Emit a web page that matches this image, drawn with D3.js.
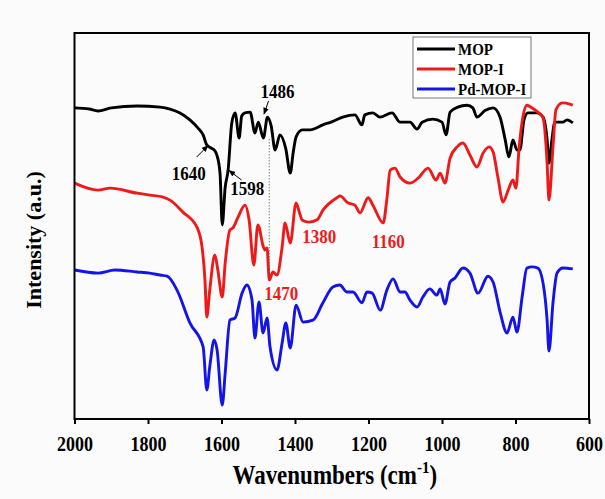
<!DOCTYPE html>
<html>
<head>
<meta charset="utf-8">
<script src="https://cdn.jsdelivr.net/npm/d3@7"></script>
<style>
  html, body { margin: 0; padding: 0; background: #fbfbfb; }
  svg { display: block; font-family: "Liberation Serif", "Times New Roman", serif; font-weight: bold; }
</style>
</head>
<body>
<svg id="chart" width="605" height="499"></svg>
<script>
// ---- FT-IR spectra (wavenumber in cm^-1, intensity in a.u., curves are vertically offset) ----
const seriesNames = ["MOP", "MOP-I", "Pd-MOP-I"];

const mopWn = [2000,1960,1936,1900,1830,1767,1740,1713,1686,1665,1650,1640,1628,1618,1613,1604,1598,1590,1582,1572,1563,1552,1545,1536,1522,1509,1500,1486,1475,1465,1454,1441,1425,1413,1405,1397,1380,1359,1324,1300,1270,1237,1218,1210,1188,1169,1136,1114,1087,1068,1054,1025,1000,989,978,957,932,916,905,883,861,842,828,818,807,796,788,777,766,742,725,714,709,701,693,671,660,644];
const mopI  = [80.6,80.3,79.8,80.6,81.1,80.8,80.3,79.3,77.5,75.5,73.6,71.0,70.2,69.5,68.5,63.7,50.3,60.0,64.5,76.7,79.3,72.8,78.5,79.3,79.5,74.1,76.9,72.8,78.2,76.0,69.7,73.6,70.0,63.7,69.0,73.1,74.9,74.9,76.2,77.0,78.2,78.8,76.2,78.8,79.3,78.2,79.3,76.9,76.9,75.1,76.9,77.7,76.9,73.6,79.5,80.8,81.3,80.6,78.2,79.9,80.6,78.2,72.3,67.9,72.3,69.7,69.7,77.5,79.3,79.3,78.2,72.3,66.3,72.3,76.9,76.9,77.5,76.7];

const mopIWn = [2000,1936,1903,1830,1795,1759,1740,1705,1667,1653,1645,1640,1632,1618,1610,1598,1590,1577,1569,1555,1536,1525,1512,1501,1486,1482,1476,1470,1460,1449,1435,1427,1413,1397,1388,1380,1362,1340,1324,1283,1278,1256,1237,1223,1201,1188,1160,1150,1141,1128,1114,1087,1065,1038,1016,1005,992,978,959,943,924,905,888,872,861,848,834,820,807,799,790,780,769,755,739,725,714,709,698,690,673,652,644];
const mopII  = [61.1,59.3,59.8,58.5,58.0,57.5,56.7,53.6,49.7,44.6,36.0,26.4,33.4,42.5,38.6,31.6,40.4,49.0,49.5,52.3,55.4,51.6,39.9,50.3,44.6,43.8,44.3,36.0,38.1,37.3,44.6,50.8,45.6,56.0,53.5,51.5,51.0,51.6,54.1,57.5,57.8,56.0,55.4,53.4,57.3,55.4,50.8,57.0,64.5,65.0,62.7,61.1,62.4,65.0,61.9,63.7,61.1,67.6,70.5,71.5,68.4,65.3,68.9,70.5,69.2,62.7,56.2,59.3,61.9,59.8,70.5,78.2,81.3,80.6,79.5,78.0,66.3,56.7,70.5,80.1,81.9,81.6,81.3];

const pdWn = [2000,1936,1890,1830,1795,1767,1748,1721,1686,1650,1640,1632,1620,1612,1598,1590,1577,1563,1544,1531,1517,1509,1498,1487,1476,1468,1449,1435,1425,1413,1397,1378,1351,1324,1297,1278,1259,1242,1218,1204,1190,1168,1150,1133,1114,1101,1087,1068,1052,1033,1014,1005,992,978,965,943,924,902,875,861,842,823,807,796,782,769,755,739,725,714,709,698,687,671,644];
const pdI  = [38.6,37.8,38.6,38.1,37.8,37.3,37.0,33.4,24.9,18.7,7.5,13.5,20.5,17.9,3.6,11.9,25.6,26.2,32.6,34.7,30.8,21.0,30.3,22.3,26.2,18.7,12.7,19.7,24.9,18.4,29.5,25.1,25.6,30.1,34.2,34.7,32.9,32.9,30.1,32.9,32.6,28.2,33.4,36.3,32.9,32.9,30.8,29.0,31.6,33.7,32.1,33.7,29.8,35.5,36.5,39.1,37.8,32.6,37.0,35.5,27.7,22.3,26.4,22.5,31.6,39.1,39.4,39.1,35.2,25.6,17.6,30.1,37.8,39.1,38.9];

const seriesWn = [mopWn, mopIWn, pdWn];
const seriesI = [mopI, mopII, pdI];
const seriesColors = ["#000000", "#ee1a1a", "#1414e6"];

// band assignments written on the plot
const blackBands = ["1640", "1598", "1486"];
const redBands = ["1380", "1160", "1470"];
const xTicks = [2000, 1800, 1600, 1400, 1200, 1000, 800, 600];
const xMinorTicks = [1900, 1700, 1500, 1300, 1100, 900, 700];
// dotted guide at 1470 cm^-1 between the MOP and MOP-I traces
const guideWn = 1470, guideTop = 72.5, guideBottom = 36.0;

// ---- layout ----
const svg = d3.select("#chart");
const plot = { left: 74.5, right: 589, top: 33, bottom: 419 };

const x = d3.scaleLinear().domain([2000, 600]).range([plot.left, plot.right]);
const y = d3.scaleLinear().domain([0, 100]).range([plot.bottom, plot.top]);

svg.append("defs").append("clipPath").attr("id", "plotClip")
  .append("rect")
  .attr("x", plot.left).attr("y", plot.top)
  .attr("width", plot.right - plot.left).attr("height", plot.bottom - plot.top);

svg.select("defs").append("marker")
  .attr("id", "arrowHead").attr("viewBox", "0 0 10 10")
  .attr("refX", 9).attr("refY", 5)
  .attr("markerWidth", 7).attr("markerHeight", 7)
  .attr("markerUnits", "userSpaceOnUse")
  .attr("orient", "auto")
  .append("path").attr("d", "M0,1 L10,5 L0,9 Z").attr("fill", "#000");

// text that is drawn slightly taller than wide, like the serif glyphs of the figure
function tallText(parent, tx, ty, str, size, sy, anchor, fill) {
  return parent.append("text")
    .attr("transform", `translate(${tx},${ty}) scale(1,${sy})`)
    .attr("text-anchor", anchor || "start")
    .attr("font-size", size)
    .attr("fill", fill || "#000")
    .text(str);
}

// ---- spectra ----
const line = d3.line()
  .x(d => x(d[0]))
  .y(d => y(d[1]))
  .curve(d3.curveMonotoneX);

const traces = svg.append("g").attr("clip-path", "url(#plotClip)");
seriesNames.forEach((name, i) => {
  const pts = seriesWn[i].map((w, k) => [w, seriesI[i][k]]);
  traces.append("path")
    .datum(pts)
    .attr("fill", "none")
    .attr("stroke", seriesColors[i])
    .attr("stroke-width", 2.9)
    .attr("stroke-linejoin", "round")
    .attr("d", line);
});

// dotted guide line
svg.append("line")
  .attr("x1", x(guideWn)).attr("x2", x(guideWn))
  .attr("y1", y(guideTop)).attr("y2", y(guideBottom))
  .attr("stroke", "#555").attr("stroke-width", 0.9)
  .attr("stroke-dasharray", "1.2,1.8");

// ---- band labels ----
const ann = svg.append("g");
// MOP labels with arrows
const blackPlace = [
  { dx: -18, by: 180, a: [196.7, 157, 208, 145.5] },
  { dx: 25,  by: 195, a: [241.5, 180, 229, 170.5] },
  { dx: 14,  by: 98,  a: [268.5, 101, 264, 114] }
];
blackBands.forEach((b, i) => {
  const p = blackPlace[i];
  tallText(ann, x(+b) + p.dx, p.by, b, 17, 1.1, "middle", "#000");
  ann.append("line")
    .attr("x1", p.a[0]).attr("y1", p.a[1])
    .attr("x2", p.a[2]).attr("y2", p.a[3])
    .attr("stroke", "#000").attr("stroke-width", 1)
    .attr("marker-end", "url(#arrowHead)");
});
// MOP-I labels
const redPlace = [
  { dx: 17, by: 243 },
  { dx: 5,  by: 248 },
  { dx: 12, by: 300 }
];
redBands.forEach((b, i) => {
  const p = redPlace[i];
  tallText(ann, x(+b) + p.dx, p.by, b, 17, 1.1, "middle", seriesColors[1]);
});

// ---- axes ----
const axisG = svg.append("g").attr("transform", `translate(0,${plot.bottom})`);
axisG.call(d3.axisBottom(x).tickValues(xMinorTicks).tickSize(3).tickFormat(""));
axisG.call(d3.axisBottom(x).tickValues(xTicks).tickSize(5).tickFormat(d3.format("d")));
axisG.selectAll(".domain").remove();
axisG.selectAll(".tick line").attr("stroke", "#000").attr("stroke-width", 2);
axisG.selectAll(".tick text")
  .attr("fill", "#000")
  .attr("font-family", "Liberation Serif, Times New Roman, serif")
  .attr("font-weight", "bold")
  .attr("font-size", 18)
  .attr("dy", 0)
  .attr("y", 32 / 1.22)
  .attr("transform", "scale(1,1.22)");

// plot frame
svg.append("rect")
  .attr("x", plot.left).attr("y", plot.top)
  .attr("width", plot.right - plot.left).attr("height", plot.bottom - plot.top)
  .attr("fill", "none").attr("stroke", "#000").attr("stroke-width", 2);

// axis titles
const xTitle = svg.append("text")
  .attr("transform", `translate(${(plot.left + plot.right) / 2 + 3},484) scale(1,1.18)`)
  .attr("text-anchor", "middle")
  .attr("font-size", 23)
  .attr("fill", "#000");
xTitle.append("tspan").text("Wavenumbers (cm");
xTitle.append("tspan").attr("font-size", 15).attr("dy", -9).text("-1");
xTitle.append("tspan").attr("dy", 9).text(")");

svg.append("text")
  .attr("transform", "translate(41,240) rotate(-90)")
  .attr("text-anchor", "middle")
  .attr("font-size", 22)
  .attr("fill", "#000")
  .text("Intensity (a.u.)");

// ---- legend ----
const legend = svg.append("g");
legend.append("rect")
  .attr("x", 413).attr("y", 37).attr("width", 118).attr("height", 61)
  .attr("fill", "#fff").attr("stroke", "#777").attr("stroke-width", 1);
seriesNames.forEach((name, i) => {
  const cy = 49 + i * 20;
  legend.append("line")
    .attr("x1", 417).attr("x2", 455).attr("y1", cy).attr("y2", cy)
    .attr("stroke", seriesColors[i]).attr("stroke-width", 2.9);
  tallText(legend, 458, cy + 6, name, 15, 1.15, "start", "#000");
});
</script>
</body>
</html>
